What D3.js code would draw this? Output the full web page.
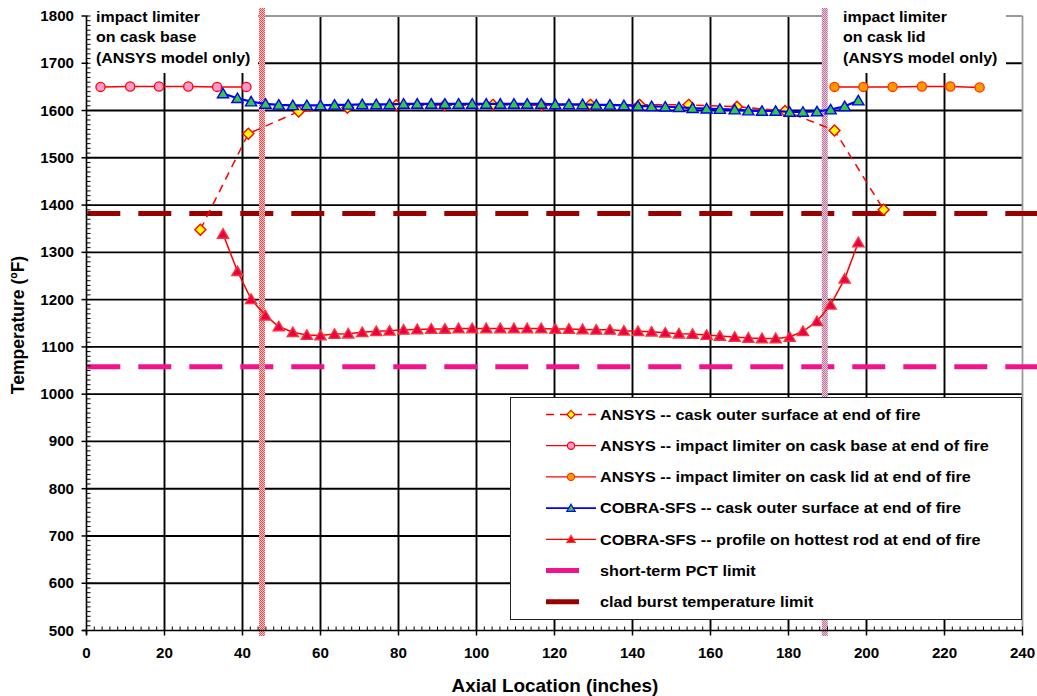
<!DOCTYPE html>
<html><head><meta charset="utf-8">
<script src="https://cdn.jsdelivr.net/npm/d3@7"></script>
<style>
body{margin:0;background:#fff}
svg{display:block}
text{font-family:"Liberation Sans",Arial,Helvetica,sans-serif;font-weight:bold;fill:#000}
</style>
</head><body>
<svg id="chart" width="1037" height="696"></svg>
<script>
// ---------------- data ----------------
const xTicks = [0,20,40,60,80,100,120,140,160,180,200,220,240];
const yTicks = [500,600,700,800,900,1000,1100,1200,1300,1400,1500,1600,1700,1800];

const ansysSurfX = [29.2,41.5,54.4,66.9,79.4,91.8,104.2,116.7,129.2,141.8,154.4,166.8,179.1,191.8,204.4];
const ansysSurfT = [1348,1551,1598,1606,1611,1611,1612,1611,1612,1612,1612,1608,1599,1558,1390];

const baseX = [3.6,11.2,18.6,26.1,33.5,41.0];
const baseT = [1650,1651,1651,1651,1650,1650];

const lidX = [191.8,199.2,206.7,214.2,221.5,229.0];
const lidT = [1650,1650,1650,1651,1651,1649];

const cobraX = [35.0,38.7,42.2,45.9,49.3,52.9,56.5,60.0,63.6,67.1,70.7,74.3,77.7,81.3,84.8,88.4,91.9,95.4,98.9,102.5,
  106.1,109.6,113.0,116.6,120.2,123.7,127.2,130.7,134.2,137.8,141.4,144.9,148.4,151.9,155.4,159.0,162.4,166.2,169.7,173.2,
  176.7,180.3,183.7,187.3,190.8,194.4,197.9];
const cobraSurfT = [1636,1626,1619,1614,1612,1611,1611,1611,1612,1612,1613,1613,1613,1614,1614,1614,1614,1614,1614,1614,
  1614,1614,1614,1614,1613,1613,1613,1612,1612,1611,1610,1609,1608,1607,1605,1604,1603,1602,1600,1599,
  1599,1597,1597,1598,1602,1609,1621];
const cobraRodT = [1339,1260,1201,1166,1143,1131,1125,1124,1127,1128,1131,1133,1134,1136,1137,1138,1138,1139,1139,1139,
  1139,1139,1139,1139,1138,1138,1137,1136,1136,1134,1133,1132,1130,1128,1127,1125,1123,1121,1119,1118,
  1118,1121,1133,1154,1189,1244,1321];

const pctLimit = 1058;
const burstLimit = 1382;
const boundaryX = [45, 189.3];

const legendLabels = [
  "ANSYS -- cask outer surface at end of fire",
  "ANSYS -- impact limiter on cask base at end of fire",
  "ANSYS -- impact limiter on cask lid at end of fire",
  "COBRA-SFS -- cask outer surface at end of fire",
  "COBRA-SFS -- profile on hottest rod at end of fire",
  "short-term PCT limit",
  "clad burst temperature limit"
];
const annoBase = ["impact limiter","on cask base","(ANSYS model only)"];
const annoLid = ["impact limiter","on cask lid","(ANSYS model only)"];
const xTitle = "Axial Location (inches)";
const yTitle = "Temperature (ºF)";

// ---------------- drawing ----------------
const svg = d3.select("#chart");
const SX = 1.08; // horizontal text stretch
const x = d3.scaleLinear().domain([0,240]).range([86.5,1022.5]);
const y = d3.scaleLinear().domain([500,1800]).range([630.5,16]);

svg.append("rect").attr("width",1037).attr("height",696).attr("fill","#fff");

// patterns for the boundary bars
const defs = svg.append("defs");
function checker(id, c1, c2){
  const p = defs.append("pattern").attr("id",id).attr("patternUnits","userSpaceOnUse")
    .attr("width",2).attr("height",2);
  p.append("rect").attr("width",2).attr("height",2).attr("fill",c2);
  p.append("rect").attr("width",1).attr("height",1).attr("fill",c1);
  p.append("rect").attr("x",1).attr("y",1).attr("width",1).attr("height",1).attr("fill",c1);
}
checker("patL","#f04848","#ffc8c8");
checker("patR","#b87099","#e8ccdc");

// grid
const grid = svg.append("g");
xTicks.filter(v=>v>0 && v<240).forEach(v=>{
  grid.append("line").attr("x1",x(v)).attr("x2",x(v)).attr("y1",y(1800)).attr("y2",y(500))
    .attr("stroke","#000").attr("stroke-width",1.9);
});
yTicks.filter(v=>v>500 && v<1800).forEach(v=>{
  grid.append("line").attr("x1",x(0)).attr("x2",x(240)).attr("y1",y(v)).attr("y2",y(v))
    .attr("stroke","#000").attr("stroke-width",1.9);
});
// gray frame top/right
grid.append("line").attr("x1",x(0)).attr("x2",x(240)).attr("y1",y(1800)).attr("y2",y(1800))
  .attr("stroke","#999").attr("stroke-width",1.8);
grid.append("line").attr("x1",x(240)).attr("x2",x(240)).attr("y1",y(1800)).attr("y2",y(500))
  .attr("stroke","#999").attr("stroke-width",1.8);

// annotation boxes
function stretchedText(g, str, tx, ty, size, anchor){
  return g.append("text").attr("transform",`translate(${tx},${ty}) scale(${SX},1)`)
    .attr("font-size",size).attr("text-anchor",anchor||"start").text(str);
}
const ann = svg.append("g");
ann.append("rect").attr("x",88).attr("y",8).attr("width",170).attr("height",65).attr("fill","#fff");
ann.append("rect").attr("x",827).attr("y",8).attr("width",179).attr("height",65).attr("fill","#fff");
annoBase.forEach((s,i)=>stretchedText(ann,s,96,21.5+i*20.5,14.8));
annoLid.forEach((s,i)=>stretchedText(ann,s,843,21.5+i*20.5,14.8));

// limit lines
const lim = svg.append("g");
lim.append("line").attr("x1",x(0)+0.8).attr("x2",1037).attr("y1",y(burstLimit)).attr("y2",y(burstLimit))
  .attr("stroke","#990000").attr("stroke-width",5).attr("stroke-dasharray","33,18");
lim.append("line").attr("x1",x(0)+0.8).attr("x2",1037).attr("y1",y(pctLimit)).attr("y2",y(pctLimit))
  .attr("stroke","#f0148c").attr("stroke-width",5).attr("stroke-dasharray","33,18");

// boundary bars
svg.append("rect").attr("x",x(boundaryX[0])-3).attr("y",8).attr("width",6).attr("height",628).attr("fill","url(#patL)");
svg.append("rect").attr("x",x(boundaryX[1])-3).attr("y",8).attr("width",6).attr("height",628).attr("fill","url(#patR)");

// symbols
const diamond = "M0,-5.5L5.5,0L0,5.5L-5.5,0Z";
const tri = "M0,-5.2L5.6,4.3L-5.6,4.3Z";
const line = d3.line().x(d=>x(d[0])).y(d=>y(d[1]));

function series(xs, ts, opts){
  const pts = xs.map((v,i)=>[v,ts[i]]);
  const g = svg.append("g");
  g.append("path").attr("d",line(pts)).attr("fill","none").attr("stroke",opts.line)
    .attr("stroke-width",opts.lw||1.5).attr("stroke-dasharray",opts.dash||null);
  pts.forEach(p=>{
    if(opts.shape==="circle"){
      g.append("circle").attr("cx",x(p[0])).attr("cy",y(p[1])).attr("r",4.6)
        .attr("fill",opts.fill).attr("stroke",opts.stroke).attr("stroke-width",1.3);
    } else {
      g.append("path").attr("d",opts.shape).attr("transform",`translate(${x(p[0])},${y(p[1])})`)
        .attr("fill",opts.fill).attr("stroke",opts.stroke).attr("stroke-width",1.4);
    }
  });
}
const styles = [
  {line:"#ff0000",dash:"8,6",shape:diamond,fill:"#ffff00",stroke:"#ff0000"},
  {line:"#ff0000",shape:"circle",fill:"#ff99cc",stroke:"#ff0000"},
  {line:"#ff0000",shape:"circle",fill:"#ff9900",stroke:"#ff3300"},
  {line:"#0000ff",lw:2.2,shape:tri,fill:"#33cc33",stroke:"#0000ff"},
  {line:"#ff0000",shape:tri,fill:"#e6004c",stroke:"#ff3333"}
];
series(ansysSurfX, ansysSurfT, styles[0]);
series(baseX, baseT, styles[1]);
series(lidX, lidT, styles[2]);
series(cobraX, cobraSurfT, styles[3]);
series(cobraX, cobraRodT, styles[4]);

// axes
const ax = svg.append("g");
ax.append("line").attr("x1",x(0)).attr("x2",x(0)).attr("y1",y(1800)).attr("y2",y(500)+4)
  .attr("stroke","#000").attr("stroke-width",1.6);
ax.append("line").attr("x1",x(0)-4).attr("x2",x(240)).attr("y1",y(500)).attr("y2",y(500))
  .attr("stroke","#000").attr("stroke-width",1.6);
// y minor (every 10) inside
d3.range(500,1801,10).forEach(v=>{
  ax.append("line").attr("x1",x(0)).attr("x2",x(0)+4).attr("y1",y(v)).attr("y2",y(v)).attr("stroke","#000").attr("stroke-width",1);
});
// x minor (every 2) inside
d3.range(0,241,2).forEach(v=>{
  ax.append("line").attr("x1",x(v)).attr("x2",x(v)).attr("y1",y(500)).attr("y2",y(500)-4).attr("stroke","#000").attr("stroke-width",1);
});
yTicks.forEach(v=>{
  ax.append("line").attr("x1",x(0)-5).attr("x2",x(0)).attr("y1",y(v)).attr("y2",y(v)).attr("stroke","#000").attr("stroke-width",1.5);
  stretchedText(ax, String(v), 74, y(v)+5, 14, "end");
});
xTicks.forEach(v=>{
  ax.append("line").attr("x1",x(v)).attr("x2",x(v)).attr("y1",y(500)).attr("y2",y(500)+5).attr("stroke","#000").attr("stroke-width",1.5);
  stretchedText(ax, String(v), x(v), 658, 14, "middle");
});
stretchedText(ax, xTitle, 555, 692, 17.5, "middle");
ax.append("text").attr("transform","translate(24,325) rotate(-90)").attr("font-size",17.5)
  .attr("text-anchor","middle").text(yTitle);

// legend
const lg = svg.append("g");
lg.append("rect").attr("x",510.5).attr("y",397.5).attr("width",511).attr("height",222)
  .attr("fill","#fff").attr("stroke","#222").attr("stroke-width",1);
legendLabels.forEach((lab,i)=>{
  const cy = 414.5 + i*31.2;
  const row = lg.append("g");
  if(i<5){
    const st = styles[i];
    row.append("line").attr("x1",546).attr("x2",596).attr("y1",cy).attr("y2",cy)
      .attr("stroke",st.line).attr("stroke-width",st.lw?1.6:1.3).attr("stroke-dasharray",st.dash||null);
    if(st.shape==="circle"){
      row.append("circle").attr("cx",571).attr("cy",cy).attr("r",3.6).attr("fill",st.fill).attr("stroke",st.stroke).attr("stroke-width",1.2);
    } else {
      row.append("path").attr("d",st.shape).attr("transform",`translate(571,${cy}) scale(0.75)`)
        .attr("fill",i===4?"#ff0000":st.fill).attr("stroke",st.stroke).attr("stroke-width",1.5);
    }
  } else {
    row.append("line").attr("x1",546).attr("x2",579).attr("y1",cy).attr("y2",cy)
      .attr("stroke",i===5?"#f0148c":"#990000").attr("stroke-width",5);
  }
  stretchedText(row, lab, 600, cy+5.3, 15, "start");
});
</script>
</body></html>
